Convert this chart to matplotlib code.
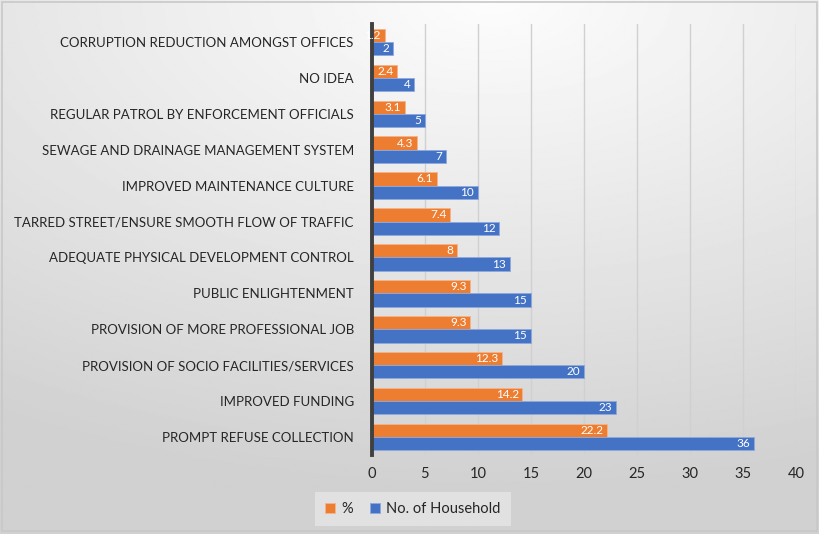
import matplotlib.pyplot as plt
import numpy as np
from matplotlib.patches import Rectangle

plt.rcParams['font.family'] = ['Lato', 'DejaVu Sans']

measures = [
    "PROMPT REFUSE COLLECTION",
    "IMPROVED FUNDING",
    "PROVISION OF SOCIO FACILITIES/SERVICES",
    "PROVISION OF MORE PROFESSIONAL JOB",
    "PUBLIC ENLIGHTENMENT",
    "ADEQUATE PHYSICAL DEVELOPMENT CONTROL",
    "TARRED STREET/ENSURE SMOOTH FLOW OF TRAFFIC",
    "IMPROVED MAINTENANCE CULTURE",
    "SEWAGE AND DRAINAGE MANAGEMENT SYSTEM",
    "REGULAR PATROL BY ENFORCEMENT OFFICIALS",
    "NO IDEA",
    "CORRUPTION REDUCTION AMONGST OFFICES",
]
percent = [22.2, 14.2, 12.3, 9.3, 9.3, 8, 7.4, 6.1, 4.3, 3.1, 2.4, 1.2]
households = [36, 23, 20, 15, 15, 13, 12, 10, 7, 5, 4, 2]
xticks = [0, 5, 10, 15, 20, 25, 30, 35, 40]

orange = "#ED7D31"
blue = "#4472C4"

fig = plt.figure(figsize=(8.19, 5.34), dpi=100)

# soft grey backdrop, brightest near the top middle
bg = fig.add_axes([0, 0, 1, 1], zorder=-10)
yy, xx = np.mgrid[0:1:300j, 0:1:500j]
r = np.sqrt(((xx - 0.6) * 1.0) ** 2 + (yy * 1.25) ** 2)
shade = np.clip(0.99 - 0.15 * r, 0.82, 0.99)
bg.imshow(shade, cmap="gray", vmin=0, vmax=1, aspect="auto",
          extent=[0, 1, 1, 0])
bg.set_xlim(0, 1)
bg.set_ylim(1, 0)
bg.axis("off")
bg.add_patch(Rectangle((0.002, 0.004), 0.996, 0.99, fill=False,
                       edgecolor="#c8c8c8", lw=1.2))

ax = fig.add_axes([0.454, 0.148, 0.518, 0.807])
ax.patch.set_alpha(0)
y = np.arange(len(measures))
h = 0.37
bp = ax.barh(y + h / 2, percent, height=h, color=orange,
             edgecolor="#f4b48a", lw=0.6, label="%", zorder=3)
bh = ax.barh(y - h / 2, households, height=h, color=blue,
             edgecolor="#8ea9dc", lw=0.6, label="No. of Household", zorder=3)

for bars, vals in ((bp, percent), (bh, households)):
    for b, v in zip(bars, vals):
        ax.text(b.get_width() - 0.35, b.get_y() + b.get_height() / 2,
                f"{v:g}", color="white", fontsize=8.5, ha="right",
                va="center", zorder=6)

ax.set_xlim(0, 40)
ax.set_ylim(-0.5, len(measures) - 0.5)
ax.set_xticks(xticks)
ax.set_yticks(y)
ax.set_yticklabels(measures, fontsize=9.5, color="#262626")
ax.tick_params(axis="x", labelsize=10.5, colors="#262626", length=0, pad=9)
ax.tick_params(axis="y", length=0, pad=13)
ax.grid(axis="x", color="#d0d0d0", lw=1, zorder=0)
for s in ("top", "right", "bottom"):
    ax.spines[s].set_visible(False)
ax.spines["left"].set_color("#404040")
ax.spines["left"].set_linewidth(2.8)
ax.spines["left"].set_zorder(5)

leg = fig.legend(handles=[bp, bh], loc="center", bbox_to_anchor=(0.504, 0.047),
                 ncol=2, frameon=True, fontsize=10.5, handlelength=0.7,
                 handleheight=0.7, columnspacing=1.2, handletextpad=0.4,
                 fancybox=False, borderpad=0.7)
leg.get_frame().set_facecolor("#e6e6e6")
leg.get_frame().set_edgecolor("none")
for t in leg.get_texts():
    t.set_color("#262626")

fig.savefig("out.png", dpi=100)
